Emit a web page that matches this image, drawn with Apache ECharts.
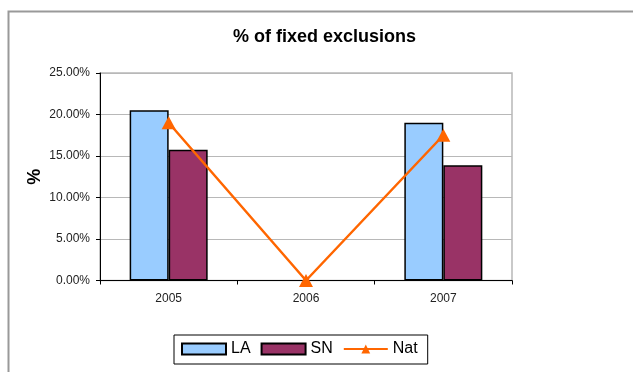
<!DOCTYPE html>
<html>
<head>
<meta charset="utf-8">
<script src="https://cdn.jsdelivr.net/npm/echarts@6/dist/echarts.min.js"></script>
<style>
html,body{margin:0;padding:0;background:#fff;}
#c{width:633px;height:372px;}
</style>
</head>
<body>
<div id="c"></div>
<script>
var categories = ['2005', '2006', '2007'];
var laValues = [20.5, null, 19.0];
var snValues = [15.75, null, 13.9];
var natValues = [19.0, 0, 17.5];
var yTicks = [0, 5, 10, 15, 20, 25];

var chart = echarts.init(document.getElementById('c'), null, {renderer: 'canvas'});
var font = 'Arial, "Liberation Sans", sans-serif';
chart.setOption({
  backgroundColor: '#fff',
  animation: false,
  title: {
    text: '% of fixed exclusions',
    left: 233,
    top: 28,
    padding: 0,
    textStyle: {fontFamily: font, fontSize: 18, fontWeight: 'bold', color: '#000'}
  },
  graphic: [{
    type: 'rect',
    z: -1,
    shape: {x: 8.5, y: 11.5, width: 700, height: 420},
    style: {fill: 'none', stroke: '#999', lineWidth: 2}
  }],
  legend: {
    left: 174,
    top: 335,
    padding: [6, 10, 7, 7],
    itemGap: 10,
    itemWidth: 44,
    itemHeight: 11,
    borderColor: '#000',
    borderWidth: 1,
    backgroundColor: '#fff',
    textStyle: {fontFamily: font, fontSize: 16, color: '#000'},
    data: [{name: 'LA', icon: 'rect'}, {name: 'SN', icon: 'rect'}, {name: 'Nat'}]
  },
  grid: {left: 100, right: 121, top: 73, bottom: 91.5, show: true, borderColor: '#b8b8b8', borderWidth: 1.5, containLabel: false},
  xAxis: {
    type: 'category',
    data: categories,
    boundaryGap: true,
    axisLine: {lineStyle: {color: '#000', width: 1}},
    axisTick: {show: true, length: 4, lineStyle: {color: '#000'}},
    axisLabel: {fontFamily: font, fontSize: 12, color: '#222', margin: 12},
    splitLine: {show: false}
  },
  yAxis: {
    type: 'value',
    min: yTicks[0],
    max: yTicks[yTicks.length - 1],
    interval: yTicks[1] - yTicks[0],
    name: '%',
    nameLocation: 'middle',
    nameRotate: 90,
    nameGap: 56,
    nameMoveOverlap: false,
    nameTextStyle: {fontFamily: font, fontSize: 18, fontWeight: 'bold', color: '#000'},
    axisLine: {show: true, lineStyle: {color: '#000', width: 1}},
    axisTick: {show: true, length: 4, lineStyle: {color: '#000'}},
    axisLabel: {fontFamily: font, fontSize: 12, color: '#222', margin: 10,
      formatter: function (v) { return v.toFixed(2) + '%'; }},
    splitLine: {show: true, lineStyle: {color: '#b8b8b8', width: 1}}
  },
  series: [
    {name: 'LA', type: 'bar', data: laValues, barWidth: 39, barGap: '0%',
      itemStyle: {color: '#99CCFF', borderColor: '#000', borderWidth: 1.5}},
    {name: 'SN', type: 'bar', data: snValues, barWidth: 39, barGap: '0%',
      itemStyle: {color: '#993366', borderColor: '#000', borderWidth: 1.5}},
    {name: 'Nat', type: 'line', data: natValues, z: 5,
      symbol: 'triangle', symbolSize: [14, 13], showSymbol: true,
      lineStyle: {color: '#FF6600', width: 2.5},
      itemStyle: {color: '#FF6600', borderWidth: 0}}
  ]
});
</script>
</body>
</html>
